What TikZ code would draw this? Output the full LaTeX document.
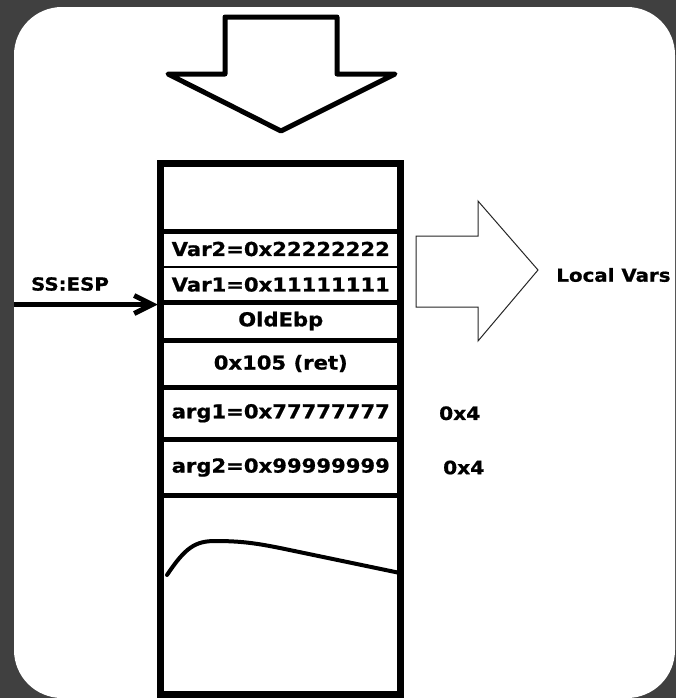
\documentclass[tikz,border=0pt]{standalone}
\usepackage{fontspec}
\usepackage{tikz}
\usetikzlibrary{arrows.meta,positioning}

\newfontfamily\stackfont{DejaVu Sans}[FakeStretch=1.1, FakeBold=0.8]
\definecolor{slate}{HTML}{404040}

\begin{document}
\begin{tikzpicture}[
  x=0.5pt, y=-0.5pt,
  cell/.style={inner sep=0pt, outer sep=0pt, minimum width=120pt,
    font=\stackfont\bfseries\fontsize{9.6}{11}\selectfont},
  lbl/.style={inner sep=0pt, font=\stackfont\bfseries\fontsize{9.2}{11}\selectfont},
  wall/.style={line width=2.5pt},
  bigarrow/.style={line width=2.5pt, line join=round},
  arr/.style={-{Straight Barb[length=9pt,width=9pt]}, line width=2.5pt}
]
\useasboundingbox (0,0) rectangle (676,698);
\fill[slate] (0,0) rectangle (676,698);
\fill[white, rounded corners=24pt] (14,7) rectangle (675,698);

% stack cells, top to bottom
\node[cell, minimum height=34pt] (free) at (280.75,197) {};
\node[cell, minimum height=18pt, below=0pt of free] (var2) {Var2=0x22222222};
\node[cell, minimum height=17.5pt, below=0pt of var2] (var1) {Var1=0x11111111};
\node[cell, minimum height=19pt, below=0pt of var1] (oldebp) {OldEbp};
\node[cell, minimum height=23.5pt, below=0pt of oldebp] (ret) {0x105 (ret)};
\node[cell, minimum height=26.25pt, below=0pt of ret] (arg1) {arg1=0x77777777};
\node[cell, minimum height=28pt, below=0pt of arg1] (arg2) {arg2=0x99999999};
\node[cell, minimum height=99.25pt, below=0pt of arg2] (heap) {};

% frame and dividers
\draw[wall, line width=3.5pt] (free.north west) rectangle (heap.south east);
\foreach \c in {free,var1,oldebp,ret,arg1,arg2}
  \draw[wall] (\c.south west) -- (\c.south east);
\draw[line width=0.75pt] (var2.south west) -- (var2.south east);

% squiggle in the bottom cell
\draw[line width=2pt, line cap=round] (167,575) .. controls (185,548) and (195,541) .. (215,541)
  .. controls (240,541) and (255,543) .. (280,548) -- (400,573);

% push direction
\draw[bigarrow] (225,17) -- (337,17) -- (337,74) -- (395,74) -- (281,131)
  -- (168,74) -- (225,74) -- cycle;

% local vars marker
\draw[line width=0.5pt, black!85] (416,236) -- (478,236) -- (478,201) -- (538,270)
  -- (478,341) -- (478,307) -- (416,307) -- cycle;
\node[lbl, font=\stackfont\bfseries\fontsize{9}{11}\selectfont, anchor=west] (localvars) at (556,275) {Local Vars};

% stack pointer
\node[lbl, font=\stackfont\bfseries\fontsize{9}{11}\selectfont] (ssesp) at (70,284) {SS:ESP};
\coordinate (espfrom) at (14,304.5);
\draw[arr, shorten >=1.5pt] (espfrom) -- (espfrom -| oldebp.west);

% argument sizes
\node[lbl, right=19pt of arg1] (size1) {0x4};
\node[lbl, right=21pt of arg2] (size2) {0x4};
\end{tikzpicture}
\end{document}
